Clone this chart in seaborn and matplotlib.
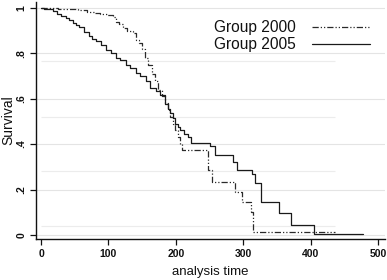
import numpy as np
import pandas as pd
import matplotlib
matplotlib.use("Agg")
import matplotlib.pyplot as plt
import seaborn as sns
from matplotlib.lines import Line2D

# ---- data ----
groups = ["Group 2000", "Group 2005"]

t_2000 = [0, 10, 25, 38, 55, 68, 80, 88, 98, 107, 111, 115, 122, 127, 137, 141,
          145, 150, 154, 159, 164, 169, 174, 179, 184, 188, 191, 195, 199, 203,
          206, 209, 247, 253, 288, 298, 311, 315, 436]
s_2000 = [1.0, 0.998, 0.996, 0.994, 0.99, 0.98, 0.977, 0.974, 0.967, 0.96, 0.94,
          0.93, 0.91, 0.90, 0.89, 0.86, 0.845, 0.82, 0.78, 0.75, 0.71, 0.68, 0.64,
          0.61, 0.58, 0.55, 0.52, 0.49, 0.46, 0.43, 0.40, 0.372, 0.286, 0.232,
          0.19, 0.147, 0.10, 0.013, 0.013]

t_2005 = [0, 4, 10, 18, 24, 30, 37, 42, 47, 52, 57, 64, 71, 76, 82, 89, 96, 103,
          111, 117, 126, 132, 141, 147, 156, 162, 170, 177, 184, 188, 191, 196,
          199, 203, 206, 212, 218, 222, 250, 258, 285, 291, 313, 317, 326, 353,
          370, 405, 478]
s_2005 = [1.0, 0.997, 0.993, 0.985, 0.975, 0.965, 0.955, 0.945, 0.935, 0.925,
          0.915, 0.895, 0.875, 0.865, 0.855, 0.835, 0.815, 0.80, 0.78, 0.77, 0.75,
          0.735, 0.715, 0.70, 0.68, 0.645, 0.635, 0.617, 0.575, 0.555, 0.537,
          0.515, 0.49, 0.475, 0.46, 0.445, 0.43, 0.405, 0.39, 0.352, 0.32, 0.286,
          0.268, 0.229, 0.147, 0.095, 0.044, 0.004, 0.004]

x_ticks = [0, 100, 200, 300, 400, 500]
y_ticks = [0, 0.2, 0.4, 0.6, 0.8, 1.0]
y_tick_labels = ["0", ".2", ".4", ".6", ".8", "1"]
faint_levels = [0.04, 0.28, 0.52, 0.765]

df = pd.concat([
    pd.DataFrame({"time": t_2000, "surv": s_2000, "group": groups[0]}),
    pd.DataFrame({"time": t_2005, "surv": s_2005, "group": groups[1]}),
], ignore_index=True)

sns.set_theme(style="white")
plt.rcParams["font.family"] = ["Liberation Sans", "DejaVu Sans"]

fig = plt.figure(figsize=(3.87, 2.8), dpi=100)
ax = fig.add_axes([36 / 387, 1 - 239 / 280, (385 - 36) / 387, (239 - 2) / 280])

palette = {groups[0]: "#2a2a2a", groups[1]: "#1a1a1a"}
dash_map = {groups[0]: (5, 1.6, 1, 1.6, 1, 1.6), groups[1]: ""}

sns.lineplot(data=df, x="time", y="surv", hue="group", style="group",
             palette=palette, dashes=dash_map, drawstyle="steps-post",
             estimator=None, sort=False, linewidth=0.9, legend=False, ax=ax)

ax.set_xlim(-7.5, 510)
ax.set_ylim(-0.018, 1.026)

ax.set_yticks(y_ticks)
ax.set_yticklabels(y_tick_labels, rotation=90, va="center", fontweight="bold")
ax.set_xticks(x_ticks)
ax.set_xticklabels([str(v) for v in x_ticks], fontweight="bold")
ax.yaxis.grid(True, color="#e4e4e4", linewidth=0.8)
ax.xaxis.grid(False)
ax.set_axisbelow(True)
ax.hlines(faint_levels, 0, 436, color="#ececec", linewidth=0.8, zorder=0)

for side in ["top", "right"]:
    ax.spines[side].set_visible(False)
for side in ["left", "bottom"]:
    ax.spines[side].set_color("#111111")
    ax.spines[side].set_linewidth(1.0)

ax.tick_params(axis="both", direction="out", length=4, width=0.9,
               color="#111111", labelsize=7.5, labelcolor="#111111", pad=3,
               bottom=True, left=True)

ax.set_xlabel("analysis time", fontsize=9.5, color="#111111", labelpad=5)
ax.set_ylabel("Survival", fontsize=10, color="#111111")
ax.yaxis.set_label_coords(-0.06, 0.5)

handles = [
    Line2D([], [], color=palette[groups[0]], linewidth=0.9, dashes=dash_map[groups[0]]),
    Line2D([], [], color=palette[groups[1]], linewidth=0.9),
]
leg = ax.legend(handles, groups, loc="upper right", frameon=False,
                markerfirst=False, fontsize=11.2, handlelength=3.75,
                handletextpad=1.0, labelspacing=0.15, borderpad=0,
                borderaxespad=0,
                bbox_to_anchor=(370 / 387, 1 - 20 / 280),
                bbox_transform=fig.transFigure)
for txt in leg.get_texts():
    txt.set_color("#111111")

fig.savefig("out.png", dpi=100)
